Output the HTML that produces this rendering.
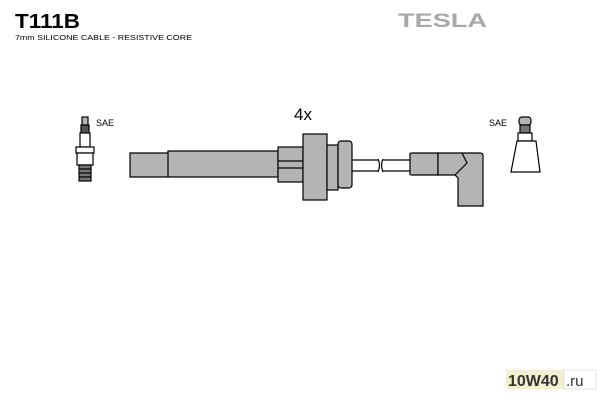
<!DOCTYPE html>
<html><head><style>
body{margin:0;background:#fff;}
svg{display:block;}
</style></head><body>
<svg width="600" height="400" xmlns="http://www.w3.org/2000/svg">
<rect width="600" height="400" fill="#fff"/>
<text x="15" y="28" font-family="Liberation Sans, sans-serif" font-weight="bold" font-size="20" textLength="65" lengthAdjust="spacingAndGlyphs">T111B</text>
<text x="15" y="40" font-family="Liberation Sans, sans-serif" font-size="7.5" textLength="177" lengthAdjust="spacingAndGlyphs">7mm SILICONE CABLE - RESISTIVE CORE</text>
<text x="398" y="27" font-family="Liberation Sans, sans-serif" font-weight="bold" font-size="19" fill="#a8a8a8" textLength="89" lengthAdjust="spacingAndGlyphs">TESLA</text>
<text x="294" y="120" font-family="Liberation Sans, sans-serif" font-size="17">4x</text>
<text x="96" y="126" font-family="Liberation Sans, sans-serif" font-size="9">SAE</text>
<text x="489" y="126" font-family="Liberation Sans, sans-serif" font-size="9">SAE</text>
<g stroke="#000" stroke-width="1.2" fill="#b4b4b4">
<rect x="82" y="117" width="6" height="8"/>
<rect x="81" y="125" width="8" height="8" fill="#555"/>
<rect x="80" y="133" width="10" height="14" fill="#fff"/>
<rect x="76" y="147" width="18" height="6" fill="#fff"/>
<rect x="77" y="153" width="16" height="12" fill="#fff"/>
<rect x="79" y="165" width="12" height="16" fill="#777"/>
<line x1="79" y1="169" x2="91" y2="169"/><line x1="79" y1="173" x2="91" y2="173"/><line x1="79" y1="177" x2="91" y2="177"/>
<path d="M130 153 H168 V151 H278 V177 H168 V177 H130 Z"/>
<line x1="168" y1="151" x2="168" y2="177"/>
<rect x="278" y="147" width="25" height="35"/>
<line x1="278" y1="161" x2="303" y2="161"/><line x1="278" y1="168" x2="303" y2="168"/>
<rect x="303" y="134" width="24" height="66"/>
<rect x="327" y="145" width="11" height="45"/>
<rect x="338" y="141" width="14" height="47" rx="3"/>
<path d="M352 160 H378 M352 171 H378 M383 160 H410 M383 171 H410" fill="none"/>
<path d="M378 159 Q381 165 378 172 M383 159 Q380 165 383 172" fill="none"/>
<path d="M410 155 Q409 153 412 153 H438 V175 H412 Q409 175 410 173 Z"/>
<path d="M438 153 H480 Q483 153 483 156 V206 H458 V178 L455 175 L438 175 Z"/>
<path d="M462 153 L467 163 L455 175" fill="none"/>
<rect x="519" y="117" width="12" height="8" rx="3"/>
<rect x="520" y="125" width="10" height="8" fill="#777"/>
<rect x="518" y="133" width="14" height="8" fill="#fff"/>
<path d="M517 141 H536 L540 172 H511 Z" fill="#fff"/>
</g>
<rect x="506" y="370" width="58" height="19" fill="#f2f0d0"/>
<text x="508" y="386" font-family="Liberation Sans, sans-serif" font-weight="bold" font-size="16" fill="#333">10W40</text>
<rect x="564" y="370" width="32" height="19" fill="#fff" stroke="#ccc" stroke-width="0.5"/>
<text x="566" y="386" font-family="Liberation Sans, sans-serif" font-size="15" fill="#333">.ru</text>
</svg>
</body></html>
